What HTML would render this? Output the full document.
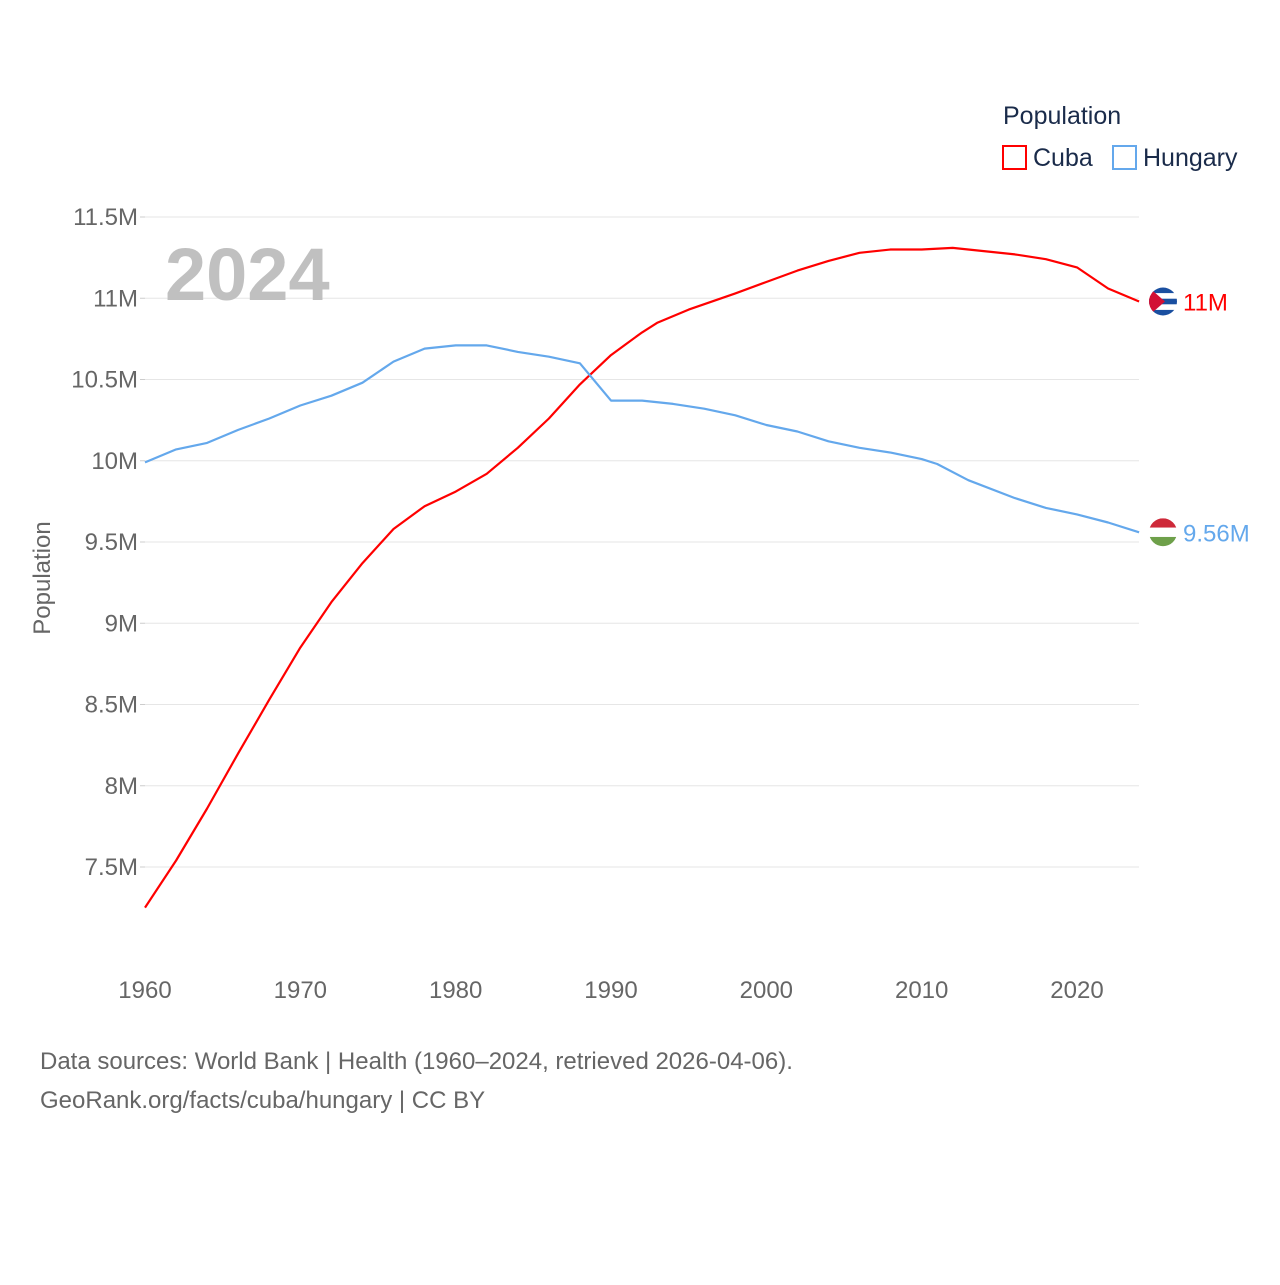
<!DOCTYPE html>
<html><head><meta charset="utf-8"><style>
body{margin:0;background:#fff;font-family:"Liberation Sans",sans-serif}
svg text{font-family:"Liberation Sans",sans-serif}
</style></head><body>
<svg id="chart" width="1280" height="1280" viewBox="0 0 1280 1280">
<g id="grid"></g><g id="yticks"></g><g id="xticks"></g>
<text x="165" y="300" font-size="74" font-weight="bold" fill="#c0c0c0">2024</text>
<text x="50" y="578" font-size="24" fill="#666" transform="rotate(-90 50 578)" text-anchor="middle">Population</text>
<g id="series"></g>
<text x="1003" y="124" font-size="25" fill="#1a2b4a">Population</text>
<g><rect x="1003" y="146" width="23" height="23" fill="none" stroke="#ff0000" stroke-width="2"/><text x="1033" y="166" font-size="25" fill="#1a2b4a">Cuba</text></g>
<g><rect x="1113" y="146" width="23" height="23" fill="none" stroke="#64a8ec" stroke-width="2"/><text x="1143" y="166" font-size="25" fill="#1a2b4a">Hungary</text></g>
<text x="40" y="1069" font-size="24" fill="#666">Data sources: World Bank | Health (1960–2024, retrieved 2026-04-06).</text>
<text x="40" y="1108" font-size="24" fill="#666">GeoRank.org/facts/cuba/hungary | CC BY</text>
</svg>
<script>
const cubaYears=[1960,1962,1964,1966,1968,1970,1972,1974,1976,1978,1980,1982,1984,1986,1988,1990,1991,1992,1993,1995,1998,2000,2002,2004,2006,2008,2010,2012,2014,2016,2018,2020,2022,2024];
const cubaValues=[7.25,7.54,7.86,8.20,8.53,8.85,9.13,9.37,9.58,9.72,9.81,9.92,10.08,10.26,10.47,10.65,10.72,10.79,10.85,10.93,11.03,11.10,11.17,11.23,11.28,11.30,11.30,11.31,11.29,11.27,11.24,11.19,11.06,10.98];
const hunYears=[1960,1962,1964,1966,1968,1970,1972,1974,1976,1978,1980,1982,1984,1986,1988,1990,1992,1994,1996,1998,2000,2002,2004,2006,2008,2010,2011,2013,2016,2018,2020,2022,2024];
const hunValues=[9.99,10.07,10.11,10.19,10.26,10.34,10.40,10.48,10.61,10.69,10.71,10.71,10.67,10.64,10.60,10.37,10.37,10.35,10.32,10.28,10.22,10.18,10.12,10.08,10.05,10.01,9.98,9.88,9.77,9.71,9.67,9.62,9.56];
const yTicks=[7.5,8,8.5,9,9.5,10,10.5,11,11.5];
const yTickLabels=["7.5M","8M","8.5M","9M","9.5M","10M","10.5M","11M","11.5M"];
const xTicks=[1960,1970,1980,1990,2000,2010,2020];
const endLabels=["11M","9.56M"];
const NS="http://www.w3.org/2000/svg";
const X=y=>145+(y-1960)*932/60;
const Y=v=>217+(11.5-v)*162.5;
function mk(t,a,p){const e=document.createElementNS(NS,t);for(const k in a)e.setAttribute(k,a[k]);p.appendChild(e);return e;}
const grid=document.getElementById('grid'),yt=document.getElementById('yticks'),xt=document.getElementById('xticks'),ser=document.getElementById('series');
yTicks.forEach((v,i)=>{
 const l=mk('line',{x1:145,x2:1139,y1:Y(v),y2:Y(v),stroke:'#e6e6e6','stroke-width':1},grid);
 
 
 mk('line',{x1:140,x2:145,y1:Y(v),y2:Y(v),stroke:'#ccc'},grid);
 const t=mk('text',{x:138,y:Y(v)+8,'font-size':24,fill:'#666','text-anchor':'end'},yt);t.textContent=yTickLabels[i];
 
 
});
xTicks.forEach(v=>{
 const t=mk('text',{x:X(v),y:998,'font-size':24,fill:'#666','text-anchor':'middle'},xt);t.textContent=v;
 
 
});
function line(ys,vs,c,name){
 const p=mk('path',{d:ys.map((y,i)=>(i?'L':'M')+X(y).toFixed(1)+','+Y(vs[i]).toFixed(1)).join(''),fill:'none',stroke:c,'stroke-width':2.2,'stroke-linejoin':'round'},ser);
 
 
}
line(cubaYears,cubaValues,'#ff0000','cuba-line');
line(hunYears,hunValues,'#64a8ec','hungary-line');
const cy=Y(cubaValues[cubaValues.length-1]),hy=Y(hunValues[hunValues.length-1]);
const g1=mk('g',{},ser);


mk('clipPath',{id:'c1'},g1);mk('circle',{cx:1163,cy:cy,r:14},g1.firstChild);
const f1=mk('g',{'clip-path':'url(#c1)'},g1);
mk('rect',{x:1149,y:cy-14,width:28,height:28,fill:'#fff'},f1);
[0,2,4].forEach(k=>mk('rect',{x:1149,y:cy-14+k*5.6,width:28,height:5.6,fill:'#1a4fa0'},f1));
mk('polygon',{points:`1149,${cy-14} 1165,${cy} 1149,${cy+14}`,fill:'#d21034'},f1);
const g2=mk('g',{},ser);


mk('clipPath',{id:'c2'},g2);mk('circle',{cx:1163,cy:hy,r:14},g2.firstChild);
const f2=mk('g',{'clip-path':'url(#c2)'},g2);
mk('rect',{x:1149,y:hy-14,width:28,height:9.4,fill:'#ce2939'},f2);
mk('rect',{x:1149,y:hy-4.6,width:28,height:9.4,fill:'#fff'},f2);
mk('rect',{x:1149,y:hy+4.7,width:28,height:9.4,fill:'#6ea04a'},f2);
const t1=mk('text',{x:1183,y:cy+9,'font-size':24,fill:'#ff0000'},ser);t1.textContent=endLabels[0];


const t2=mk('text',{x:1183,y:hy+9,'font-size':24,fill:'#64a8ec'},ser);t2.textContent=endLabels[1];


</script>
</body></html>
